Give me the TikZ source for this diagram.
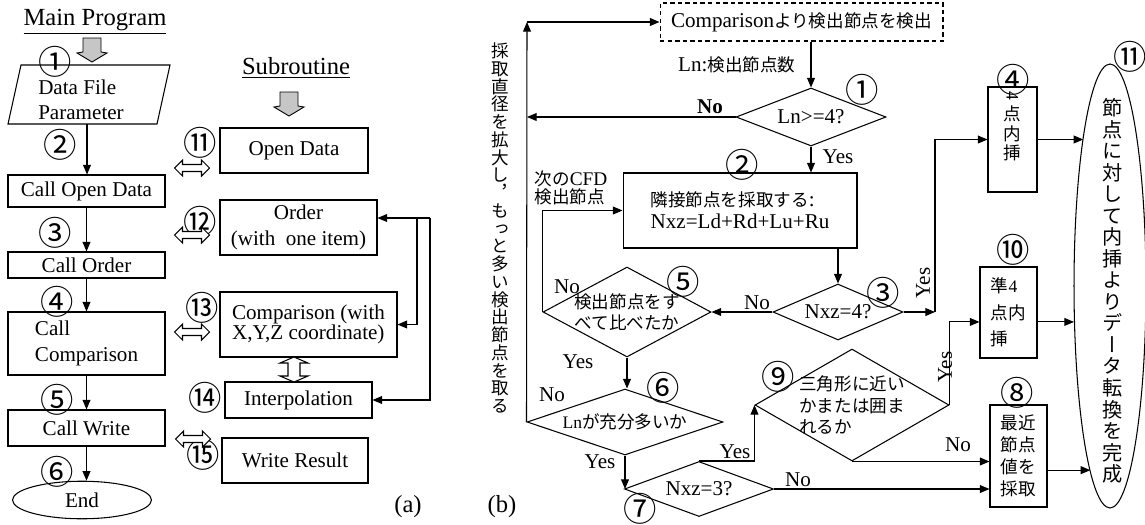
\documentclass[tikz,border=0pt]{standalone}
\usepackage{fontspec}
\setmainfont{Liberation Serif}
\newfontfamily\jp{Noto Sans CJK JP}
\newfontfamily\jpv[RawFeature=+vert]{Noto Sans CJK JP}
\newcommand{\jtext}[1]{{\jp\fontsize{10}{12}\selectfont #1}}
\usetikzlibrary{positioning}
\usetikzlibrary{shapes.geometric, arrows.meta}

\tikzset{
  lat/.style={font=\fontsize{12}{14.5}\selectfont},
  ttl/.style={font=\fontsize{14}{16}\selectfont},
  jtx/.style={font=\jp\fontsize{10}{11.5}\selectfont},
  vjtx/.style={font=\jpv\fontsize{10}{10.1}\selectfont, align=center, inner sep=0pt},
  num/.style={font=\jp\fontsize{19}{19}\selectfont, inner sep=0pt},
  box/.style={draw, rectangle, line width=0.6pt, inner sep=1pt},
  dia/.style={draw, diamond, line width=0.6pt, inner sep=0pt},
  arr/.style={line width=0.6pt, -{Triangle[length=5.5pt,width=4.5pt]}},
  ln/.style={line width=0.6pt},
  garrow/.pic={\draw[fill=gray!45, line width=0.5pt] (-9,0) -- (9,0) -- (9,14) -- (15,15) -- (0,24) -- (-15,15) -- (-9,14) -- cycle;},
  dblarrow/.pic={\draw[line width=0.6pt, fill=white] (-17.5,0) -- (-9.5,-8) -- (-9.5,-3.5) -- (9.5,-3.5) -- (9.5,-8) -- (17.5,0) -- (9.5,8) -- (9.5,3.5) -- (-9.5,3.5) -- (-9.5,8) -- cycle;}
}

\begin{document}
\begin{tikzpicture}[x=0.02cm, y=-0.02cm]
\useasboundingbox (0,0) rectangle (1145,524);

% (a) main program
\node[ttl] (mpT) at (95,22) {\underline{Main Program}};
\pic at (92,38) {garrow};
\node[num] (n1) at (55,62) {①};
\draw[ln] (8,124) -- (21,65) -- (170,65) -- (157,124) -- cycle;
\node[lat, align=left] (pm) at (81,100) {Data File\\Parameter};
\coordinate (pmB) at (87,124);
\node[num] (n2) at (60,145) {②};
\node[box, lat, minimum width=3.14cm, minimum height=0.64cm] (cod) at (86.5,191) {Call Open Data};
\node[num] (n3) at (55,233) {③};
\node[box, lat, minimum width=3.14cm, minimum height=0.52cm] (cor) at (86.5,265) {Call Order};
\node[num] (n4) at (57,302) {④};
\node[box, lat, minimum width=3.14cm, minimum height=1.26cm, align=left] (cco) at (86.5,343.5) {Call\\Comparison};
\node[num] (n5) at (57,400) {⑤};
\node[box, lat, minimum width=3.14cm, minimum height=0.72cm] (cwr) at (86.5,428) {Call Write};
\node[num] (n6) at (57,472) {⑥};
\node[draw, ellipse, ln, lat, minimum width=2.78cm, minimum height=0.72cm] (end) at (82,500) {End};
\draw[arr] (pmB) -- (cod.north -| pmB);
\draw[arr] (cod.south) -- (cor.north);
\draw[arr] (cor.south) -- (cco.north);
\draw[arr] (cco.south) -- (cwr.north);
\draw[arr] (cwr.south) -- (cwr.south |- end.north);

% (a) subroutine
\node[ttl] (srT) at (296,68) {\underline{Subroutine}};
\pic at (289,92) {garrow};
\node[box, lat, minimum width=2.96cm, minimum height=0.90cm] (sod) at (294,150.5) {Open Data};
\node[box, lat, minimum width=3.14cm, minimum height=1.10cm, align=center] (sor) at (298.5,227.5) {Order\\(with~ one item)};
\node[box, font=\fontsize{12}{11.5}\selectfont, minimum width=3.54cm, minimum height=1.30cm, align=left] (scp) at (308.5,324.5) {Comparison (with\\X,Y,Z coordinate)};
\node[box, lat, minimum width=2.94cm, minimum height=0.72cm] (sip) at (298.5,400) {Interpolation};
\node[box, lat, minimum width=2.92cm, minimum height=0.90cm] (swr) at (295,460.5) {Write Result};
\node[num] (n11) at (200,143) {⑪};
\node[num] (n12) at (200,222) {⑫};
\node[num] (n13) at (202,308) {⑬};
\node[num] (n14) at (205,398) {⑭};
\node[num] (n15) at (203,455) {⑮};
\pic at (192,168) {dblarrow};
\pic at (192,235) {dblarrow};
\pic at (192,332) {dblarrow};
\pic at (193,439) {dblarrow};
\draw[ln, fill=white] (294,357) -- (308,363) -- (300,363) -- (300,376) -- (308,376) -- (294,382) -- (280,376) -- (288,376) -- (288,363) -- (280,363) -- cycle;
\coordinate (fbO) at (430,218);
\coordinate (fbI) at (417,218);
\draw[arr] (fbO) -- (fbO -| sor.east);
\draw[arr] (fbI) |- (scp.east);
\draw[arr] (fbO) |- (sip.east);
\node[ttl] (la) at (408,507) {(a)};

% (b)
\node[vjtx] (vtL) at (500,228) {採\\取\\直\\径\\を\\拡\\大\\し\\，\\も\\っ\\と\\多\\い\\検\\出\\節\\点\\を\\取\\る};
\node[box, lat, dash pattern=on 2.5pt off 1.8pt, minimum width=5.66cm, minimum height=0.76cm, inner sep=0pt] (cmp) at (801.5,22) {Comparison\jtext{より検出節点を検出}};
\node[lat, anchor=west] (lnT) at (672,65) {Ln:\jtext{検出節点数}};
\node[dia, minimum width=3.00cm, minimum height=1.16cm, label={[lat]center:{Ln>=4?}}] (d1) at (811,117) {};
\node[num] (m1) at (862,90) {①};
\node[lat] (no1) at (710,107) {\textbf{No}};
\node[lat] (ys1) at (838,157) {Yes};
\coordinate (lft) at (527,22);
\draw[arr] (cmp.south -| d1.north) -- (d1.north);
\draw[arr] (d1.west) -- (d1.west -| lft);
\node[box, align=left, font=\fontsize{12}{12.5}\selectfont, minimum width=4.68cm, minimum height=1.50cm] (b2) at (740,210.5) {\jtext{隣接節点を採取する}:\\Nxz=Ld+Rd+Lu+Ru};
\node[num] (m2) at (742,165) {②};
\draw[arr] (d1.south) -- (d1.south |- b2.north);
\node[align=left, font=\fontsize{11}{10}\selectfont] (nxt) at (571,188) {\jtext{次の}CFD\\\jtext{検出節点}};

\node[dia, minimum width=2.60cm, minimum height=1.12cm, label={[lat]center:{Nxz=4?}}] (d3) at (838,312) {};
\node[num] (m3) at (883,293) {③};
\draw[arr] (b2.south -| d3.north) -- (d3.north);
\node[dia, minimum width=3.36cm, minimum height=1.80cm, label={[jtx, align=center]center:{検出節点をす\\べて比べたか}}] (d5) at (627,312) {};
\node[num] (m5) at (683,282) {⑤};
\draw[arr] (d3.west) -- (d5.east);
\node[lat] (no3) at (757,303) {No};
\node[lat] (no5) at (567,287) {No};
\draw[arr] (d5.west) |- (b2.west);

\node[dia, minimum width=3.92cm, minimum height=1.32cm, label={[jtx]center:{{\rmfamily Ln}が充分多いか}}] (d6) at (625,422) {};
\node[num] (m6) at (663,388) {⑥};
\node[lat] (ys5) at (578,362) {Yes};
\node[lat] (no6) at (552,395) {No};
\draw[arr] (d5.south) -- (d5.south |- d6.north);
\draw[arr] (d6.west) -- (lft);
\draw[arr] (lft) -- (cmp.west);

\node[dia, minimum width=2.98cm, minimum height=1.10cm, label={[lat]center:{Nxz=3?}}] (d7) at (699,489) {};
\node[num] (m7) at (640,509) {⑦};
\node[lat] (ys6) at (600,462) {Yes};
\draw[arr] (d6.south) -- (d6.south |- d7.west);

\node[dia, minimum width=3.88cm, minimum height=2.24cm, label={[font=\jp\fontsize{10}{12.5}\selectfont, align=left]center:{三角形に近い\\かまたは囲ま\\れるか}}] (d9) at (852,405) {};
\node[num] (m9) at (778,377) {⑨};
\draw[arr] (d7.north) -| (d9.west);
\node[lat] (ys7) at (735,452) {Yes};

\coordinate (cy) at (935,312);
\draw[arr] (d3.east) -- (cy);
\node[box, align=center, font=\jpv\fontsize{10}{11}\selectfont, minimum width=0.98cm, minimum height=2.10cm] (b4) at (1012.5,139.5) {\rotatebox[origin=c]{-90}{\rmfamily 4}\\点\\内\\挿\\[5pt]};
\node[num] (m4) at (1013,80) {④};
\draw[arr] (cy) |- (b4.west);
\node[lat, rotate=90] (ys3) at (923,283) {Yes};
\node[box, align=left, font=\jp\fontsize{10}{15}\selectfont, minimum width=1.14cm, minimum height=1.82cm] (b10) at (1008.5,312.5) {準{\rmfamily 4}\\点内\\挿};
\node[num] (m10) at (1013,250) {⑩};
\draw[arr] (d9.east) |- (b10.198);
\node[lat, rotate=90] (ys9) at (945,367) {Yes};
\node[box, align=center, font=\jp\fontsize{10}{12.5}\selectfont, minimum width=1.14cm, minimum height=2.04cm] (b8) at (1018.5,456) {最近\\節点\\値を\\採取};
\node[num] (m8) at (1017,393) {⑧};
\draw[arr] (d9.south) -- (d9.south -| b8.west);
\node[lat] (no9) at (958,445) {No};
\draw[arr] (d7.east) -- (d7.east -| b8.west);
\node[lat] (no7) at (798,480) {No};

\node[draw, ellipse, ln, minimum width=1.44cm, minimum height=8.88cm] (ell) at (1110,286) {};
\node[font=\jpv\fontsize{11.5}{12.25}\selectfont, align=center, inner sep=0pt] (ellT) at (1113,291) {節\\点\\に\\対\\し\\て\\内\\挿\\よ\\り\\デ\\ー\\タ\\転\\換\\を\\完\\成};
\node[num] (m11) at (1130,57) {⑪};
\draw[arr] (b4.east) -- (b4.east -| ell.100);
\draw[arr] (b10.342) -- (b10.342 -| ell.225);
\draw[arr] (b8.334) -- (b8.334 -| ell.264);
\node[ttl] (lb) at (502,507) {(b)};

\end{tikzpicture}
\end{document}
